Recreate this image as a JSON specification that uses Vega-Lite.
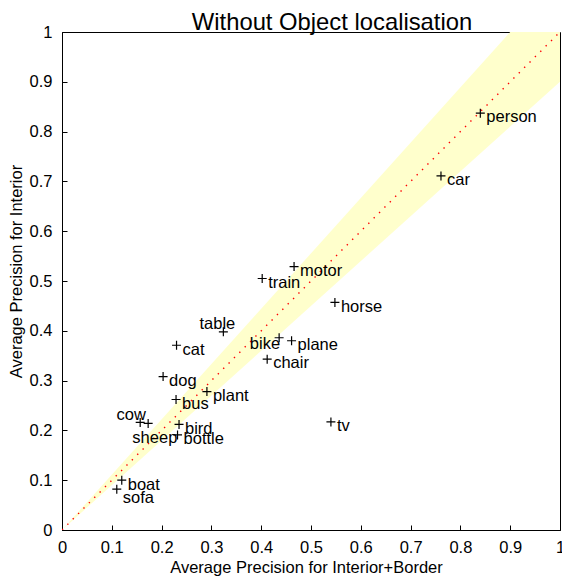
{
  "$schema": "https://vega.github.io/schema/vega-lite/v6.json",
  "width": 498,
  "height": 498,
  "autosize": {"type": "none"},
  "padding": {"left": 62, "top": 32, "right": 2, "bottom": 49},
  "background": "white",
  "config": {
    "font": "Liberation Sans",
    "view": {"stroke": "black", "strokeWidth": 1},
    "axis": {
      "grid": false,
      "domainColor": "black",
      "domainWidth": 1,
      "tickColor": "black",
      "tickSize": -5,
      "labelColor": "black",
      "labelFontSize": 16.5,
      "labelFlush": false,
      "labelOverlap": false,
      "titleColor": "black",
      "titleFontSize": 16.5,
      "titleFontWeight": "normal"
    }
  },
  "title": {
    "text": "Without Object localisation",
    "fontSize": 23.8,
    "fontWeight": "normal",
    "color": "black",
    "anchor": "middle",
    "dx": 21,
    "offset": -30,
    "baseline": "alphabetic"
  },
  "datasets": {
    "band": [
      {"x": 0, "y": 0, "y2": 0},
      {"x": 0.9, "y": 0.81, "y2": 1},
      {"x": 1, "y": 0.9, "y2": 1}
    ],
    "diag": [
      {"x": 0, "y": 0},
      {"x": 1, "y": 1}
    ],
    "classes": [
      {"name": "person", "x": 0.840, "y": 0.837},
      {"name": "car", "x": 0.761, "y": 0.711},
      {"name": "motor", "x": 0.466, "y": 0.529},
      {"name": "train", "x": 0.402, "y": 0.505},
      {"name": "horse", "x": 0.548, "y": 0.457},
      {"name": "table", "x": 0.324, "y": 0.398},
      {"name": "bike", "x": 0.436, "y": 0.386},
      {"name": "plane", "x": 0.461, "y": 0.380},
      {"name": "chair", "x": 0.412, "y": 0.343},
      {"name": "cat", "x": 0.230, "y": 0.371},
      {"name": "dog", "x": 0.203, "y": 0.308},
      {"name": "plant", "x": 0.291, "y": 0.278},
      {"name": "bus", "x": 0.229, "y": 0.262},
      {"name": "cow", "x": 0.157, "y": 0.216},
      {"name": "sheep", "x": 0.173, "y": 0.214},
      {"name": "bird", "x": 0.235, "y": 0.212},
      {"name": "bottle", "x": 0.232, "y": 0.191},
      {"name": "boat", "x": 0.120, "y": 0.100},
      {"name": "sofa", "x": 0.110, "y": 0.082},
      {"name": "tv", "x": 0.540, "y": 0.217}
    ]
  },
  "encoding": {
    "x": {
      "field": "x",
      "type": "quantitative",
      "scale": {"domain": [0, 1], "nice": false, "zero": false},
      "axis": {
        "title": "Average Precision for Interior+Border",
        "values": [0, 0.1, 0.2, 0.3, 0.4, 0.5, 0.6, 0.7, 0.8, 0.9, 1],
        "format": "~g",
        "labelBaseline": "alphabetic",
        "labelPadding": 27,
        "titleX": 244,
        "titleY": 42,
        "titleAlign": "center",
        "titleBaseline": "alphabetic"
      }
    },
    "y": {
      "field": "y",
      "type": "quantitative",
      "scale": {"domain": [0, 1], "nice": false, "zero": false},
      "axis": {
        "title": "Average Precision for Interior",
        "values": [0, 0.1, 0.2, 0.3, 0.4, 0.5, 0.6, 0.7, 0.8, 0.9, 1],
        "format": "~g",
        "labelPadding": 15,
        "titleX": -41,
        "titleY": 239,
        "titleAngle": -90,
        "titleAlign": "center",
        "titleBaseline": "alphabetic"
      }
    }
  },
  "layer": [
    {
      "data": {"name": "band"},
      "mark": {"type": "area", "color": "#ffffcc", "clip": true},
      "encoding": {"y2": {"field": "y2"}}
    },
    {
      "data": {"name": "diag"},
      "mark": {"type": "line", "color": "#ff0000", "strokeWidth": 1.4, "strokeDash": [1.4, 6.2], "clip": true},
      "encoding": {}
    },
    {
      "data": {"name": "classes"},
      "mark": {
        "type": "point",
        "shape": "M-1,0H1M0,-1V1",
        "size": 81,
        "filled": false,
        "stroke": "black",
        "strokeWidth": 1.2,
        "opacity": 1
      },
      "encoding": {}
    },
    {
      "data": {"name": "classes"},
      "transform": [{"filter": {"not": {"field": "name", "oneOf": ["cow", "sheep", "table", "bike", "sofa"]}}}],
      "mark": {"type": "text", "align": "left", "baseline": "alphabetic", "dx": 6, "dy": 9.3, "fontSize": 16.5, "color": "black"},
      "encoding": {"text": {"field": "name"}}
    },
    {
      "data": {"name": "classes"},
      "transform": [{"filter": {"field": "name", "equal": "sofa"}}],
      "mark": {"type": "text", "align": "left", "baseline": "alphabetic", "dx": 6, "dy": 13.4, "fontSize": 16.5, "color": "black"},
      "encoding": {"text": {"field": "name"}}
    },
    {
      "data": {"name": "classes"},
      "transform": [{"filter": {"field": "name", "equal": "bike"}}],
      "mark": {"type": "text", "align": "right", "baseline": "alphabetic", "dx": 1, "dy": 11.6, "fontSize": 16.5, "color": "black"},
      "encoding": {"text": {"field": "name"}}
    },
    {
      "data": {"name": "classes"},
      "transform": [{"filter": {"field": "name", "equal": "table"}}],
      "mark": {"type": "text", "align": "center", "baseline": "alphabetic", "dx": -6, "dy": -2.4, "fontSize": 16.5, "color": "black"},
      "encoding": {"text": {"field": "name"}}
    },
    {
      "data": {"name": "classes"},
      "transform": [{"filter": {"field": "name", "equal": "cow"}}],
      "mark": {"type": "text", "align": "right", "baseline": "alphabetic", "dx": 5.7, "dy": -2.3, "fontSize": 16.5, "color": "black"},
      "encoding": {"text": {"field": "name"}}
    },
    {
      "data": {"name": "classes"},
      "transform": [{"filter": {"field": "name", "equal": "sheep"}}],
      "mark": {"type": "text", "align": "center", "baseline": "alphabetic", "dx": 6.7, "dy": 19.4, "fontSize": 16.5, "color": "black"},
      "encoding": {"text": {"field": "name"}}
    }
  ]
}
